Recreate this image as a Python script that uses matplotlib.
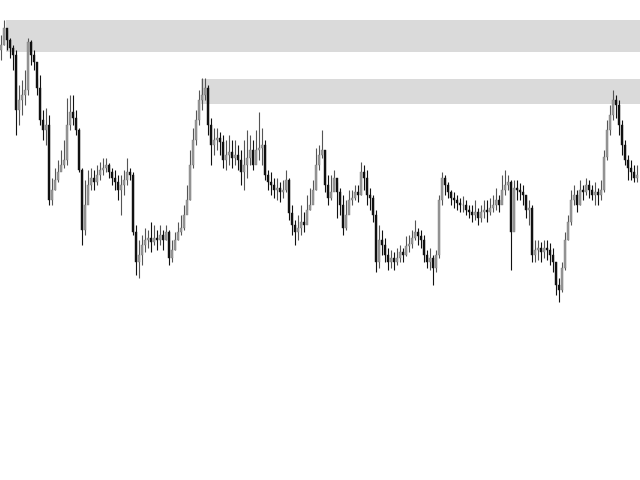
import numpy as np
import matplotlib
matplotlib.use("Agg")
from matplotlib import pyplot as plt

# candle data (price units), open of each candle = previous close
first_open = 430
closes = [435, 452, 440, 432, 425, 370, 380, 385, 390, 438,
          425, 418, 392, 360, 350, 355, 280, 290, 300, 308,
          315, 320, 355, 368, 362, 350, 310, 250, 275, 295,
          302, 298, 305, 310, 312, 315, 308, 302, 298, 290,
          295, 300, 308, 305, 248, 218, 225, 235, 240, 242,
          238, 242, 240, 245, 240, 248, 222, 230, 240, 248,
          252, 265, 280, 315, 340, 360, 380, 385, 392, 355,
          335, 340, 342, 338, 320, 325, 328, 322, 325, 320,
          308, 315, 322, 330, 315, 330, 332, 335, 305, 298,
          295, 290, 292, 288, 290, 300, 267, 255, 248, 252,
          258, 255, 270, 275, 290, 315, 325, 330, 295, 282,
          288, 302, 288, 275, 252, 265, 280, 282, 288, 285,
          308, 302, 285, 282, 265, 218, 240, 235, 225, 218,
          222, 218, 222, 228, 225, 234, 236, 242, 248, 244,
          240, 225, 218, 222, 212, 225, 280, 302, 295, 288,
          282, 280, 277, 275, 275, 270, 268, 265, 268, 262,
          268, 270, 268, 272, 275, 280, 275, 290, 295, 298,
          248, 292, 290, 288, 285, 270, 272, 225, 230, 232,
          228, 232, 230, 225, 218, 195, 190, 212, 240, 258,
          280, 285, 275, 290, 288, 295, 290, 285, 288, 285,
          290, 323, 350, 365, 380, 375, 355, 335, 320, 312, 308, 302, 305]

highs = [445, 460, 450, 442, 435, 430, 395, 400, 410, 442,
         440, 430, 402, 405, 370, 372, 365, 302, 312, 320,
         330, 340, 382, 385, 385, 370, 352, 312, 300, 310,
         312, 310, 315, 318, 322, 322, 317, 312, 310, 305,
         305, 310, 322, 312, 308, 255, 240, 245, 252, 250,
         258, 255, 250, 255, 250, 255, 250, 240, 248, 258,
         265, 275, 295, 330, 352, 370, 390, 402, 402, 395,
         362, 352, 352, 348, 345, 340, 345, 340, 340, 335,
         330, 340, 350, 345, 340, 350, 368, 352, 340, 310,
         308, 302, 302, 298, 300, 310, 302, 275, 260, 265,
         275, 268, 285, 292, 300, 332, 335, 350, 330, 305,
         305, 310, 298, 292, 285, 280, 290, 290, 295, 295,
         318, 315, 310, 292, 285, 270, 255, 250, 242, 232,
         230, 228, 232, 235, 232, 244, 245, 250, 260, 252,
         250, 245, 230, 232, 225, 230, 285, 308, 305, 298,
         290, 288, 285, 282, 284, 280, 275, 275, 280, 272,
         275, 280, 280, 282, 285, 292, 285, 305, 310, 305,
         300, 300, 300, 297, 295, 285, 280, 275, 240, 240,
         238, 240, 240, 237, 232, 218, 202, 218, 248, 265,
         290, 295, 290, 300, 295, 302, 300, 295, 298, 292,
         300, 330, 360, 375, 390, 385, 380, 360, 340, 325, 320, 315, 315]

lows = [420, 435, 430, 422, 410, 345, 355, 365, 375, 385,
        415, 410, 385, 355, 340, 335, 275, 275, 290, 298,
        310, 312, 315, 350, 355, 345, 308, 235, 245, 285,
        290, 290, 295, 300, 305, 308, 302, 295, 290, 280,
        265, 285, 295, 300, 245, 205, 202, 215, 228, 232,
        228, 235, 230, 235, 230, 240, 215, 218, 230, 240,
        245, 250, 270, 280, 312, 335, 355, 370, 380, 345,
        315, 325, 330, 325, 312, 310, 315, 312, 315, 310,
        295, 290, 302, 315, 310, 320, 320, 315, 300, 290,
        285, 282, 280, 278, 282, 288, 260, 245, 235, 240,
        245, 248, 260, 270, 280, 290, 310, 322, 288, 275,
        280, 295, 262, 265, 245, 250, 272, 275, 280, 278,
        285, 290, 275, 270, 258, 208, 212, 225, 218, 210,
        212, 210, 215, 218, 218, 224, 228, 232, 240, 235,
        232, 218, 212, 210, 195, 208, 222, 275, 285, 282,
        275, 272, 270, 268, 268, 265, 262, 258, 260, 255,
        258, 262, 258, 265, 268, 270, 268, 280, 285, 290,
        210, 250, 280, 280, 275, 262, 255, 218, 218, 220,
        218, 222, 220, 215, 208, 185, 178, 188, 210, 240,
        255, 275, 268, 275, 280, 285, 282, 280, 275, 275,
        280, 288, 320, 345, 360, 362, 345, 325, 315, 300, 300, 298, 298]

# supply zones: (start candle, low price, high price)
zone_start = [1.7, 66.7]
zone_low = [428, 376]
zone_high = [460, 401]

closes = np.array(closes)
highs = np.array(highs)
lows = np.array(lows)
opens = np.concatenate([[first_open], closes[:-1]])
idx = np.arange(len(closes))
up = closes >= opens

fig = plt.figure(figsize=(6.4, 4.8), dpi=100)
ax = fig.add_axes([0, 0, 1, 1])

n = len(closes)
for s, lo, hi in zip(zone_start, zone_low, zone_high):
    ax.fill_between([s, n + 5], lo, hi, color="#dadada", lw=0, zorder=1)

# wicks
ax.vlines(idx[up], lows[up], highs[up], color="#555555", lw=0.8, zorder=2)
ax.vlines(idx[~up], lows[~up], highs[~up], color="#111111", lw=0.8, zorder=2)

# bodies
w = 0.7
ax.bar(idx[up], closes[up] - opens[up], bottom=opens[up], width=w,
       color="#999999", edgecolor="#7a7a7a", lw=0.3, zorder=3)
ax.bar(idx[~up], closes[~up] - opens[~up], bottom=opens[~up], width=w,
       color="#111111", edgecolor="#111111", lw=0.3, zorder=3)

ax.set_xlim(-0.33, 213.0)
ax.set_ylim(0, 480)
ax.axis("off")

fig.savefig("out.png", dpi=100)
